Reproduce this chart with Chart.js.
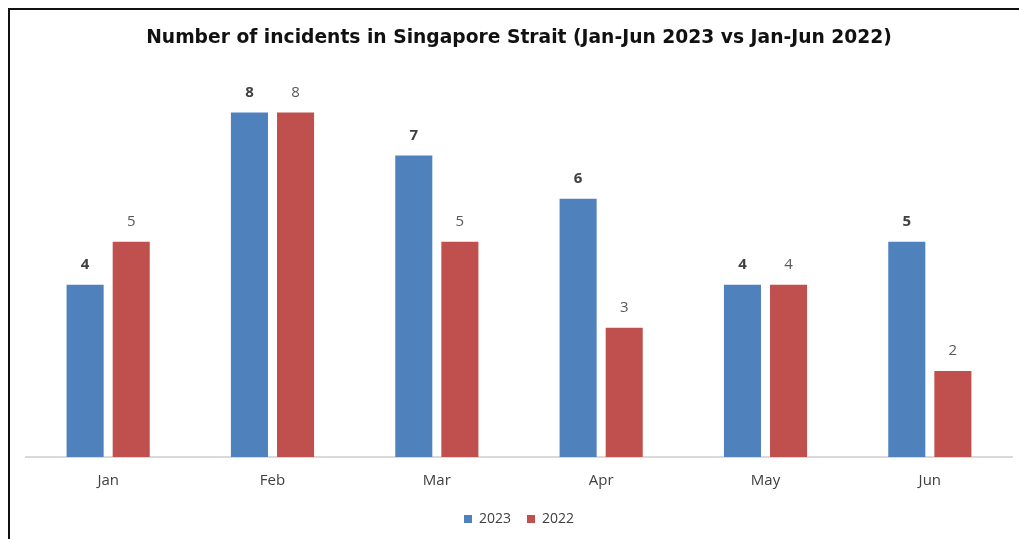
<!DOCTYPE html>
<html>
<head>
<meta charset="utf-8">
<script src="https://cdn.jsdelivr.net/npm/chart.js@4/dist/chart.umd.min.js"></script>
<style>
  html, body { margin: 0; padding: 0; background: #fff; }
  #wrap { position: relative; width: 1019px; height: 539px; }
</style>
</head>
<body>
<div id="wrap"><canvas id="incidentChart" width="1019" height="539"></canvas></div>
<script>
const months = ["Jan", "Feb", "Mar", "Apr", "May", "Jun"];
const incidents2023 = [4, 8, 7, 6, 4, 5];
const incidents2022 = [5, 8, 5, 3, 4, 2];

// frame lines (left + top) like the original screenshot
const framePlugin = {
    id: "frame",
    afterDraw(chart) {
        const ctx = chart.ctx;
        ctx.save();
        ctx.strokeStyle = "#111";
        ctx.lineWidth = 2;
        ctx.beginPath();
        ctx.moveTo(9, 539);
        ctx.lineTo(9, 9);
        ctx.lineTo(1019, 9);
        ctx.stroke();
        ctx.restore();
    }
};

// value labels above bars
const valueLabels = {
    id: "valueLabels",
    afterDatasetsDraw(chart) {
        const ctx = chart.ctx;
        ctx.save();
        ctx.textAlign = "center";
        ctx.textBaseline = "middle";
        chart.data.datasets.forEach((ds, i) => {
            const meta = chart.getDatasetMeta(i);
            ctx.font = i === 0 ? "bold 15px 'Open Sans'" : "15px 'Open Sans'";
            ctx.fillStyle = i === 0 ? "#404040" : "#595959";
            meta.data.forEach((bar, j) => {
                ctx.fillText(ds.data[j], bar.x, bar.y - 20);
            });
        });
        ctx.restore();
    }
};

const ctx = document.getElementById("incidentChart").getContext("2d");
window.incidentChart = new Chart(ctx, {
    type: "bar",
    data: {
        labels: months,
        datasets: [{
            label: "2023",
            data: incidents2023,
            backgroundColor: "#4F81BD",
            categoryPercentage: 0.561,
            barPercentage: 0.804
        }, {
            label: "2022",
            data: incidents2022,
            backgroundColor: "#C0504D",
            categoryPercentage: 0.561,
            barPercentage: 0.804
        }]
    },
    options: {
        responsive: false,
        animation: false,
        layout: { padding: { left: 26, right: 7, top: 0, bottom: 3 } },
        plugins: {
            title: {
                display: true,
                text: "Number of incidents in Singapore Strait (Jan-Jun 2023 vs Jan-Jun 2022)",
                color: "#111",
                font: { family: "'DejaVu Sans'", size: 18.7, weight: "bold" },
                padding: { top: 27, bottom: 20 }
            },
            legend: {
                position: "bottom",
                labels: {
                    usePointStyle: true,
                    pointStyle: "rect",
                    boxWidth: 8,
                    boxHeight: 8,
                    color: "#404040",
                    font: { family: "'Open Sans'", size: 14 },
                    padding: 16
                }
            },
            tooltip: { enabled: false }
        },
        scales: {
            y: {
                display: false,
                min: 0,
                max: 9
            },
            x: {
                grid: { display: false, drawTicks: false },
                border: { color: "#d9d9d9", width: 2 },
                ticks: {
                    color: "#404040",
                    font: { family: "'Open Sans'", size: 15 },
                    padding: 15
                },
                afterFit(scale) { scale.height = 39; }
            }
        }
    },
    plugins: [framePlugin, valueLabels]
});
</script>
</body>
</html>
